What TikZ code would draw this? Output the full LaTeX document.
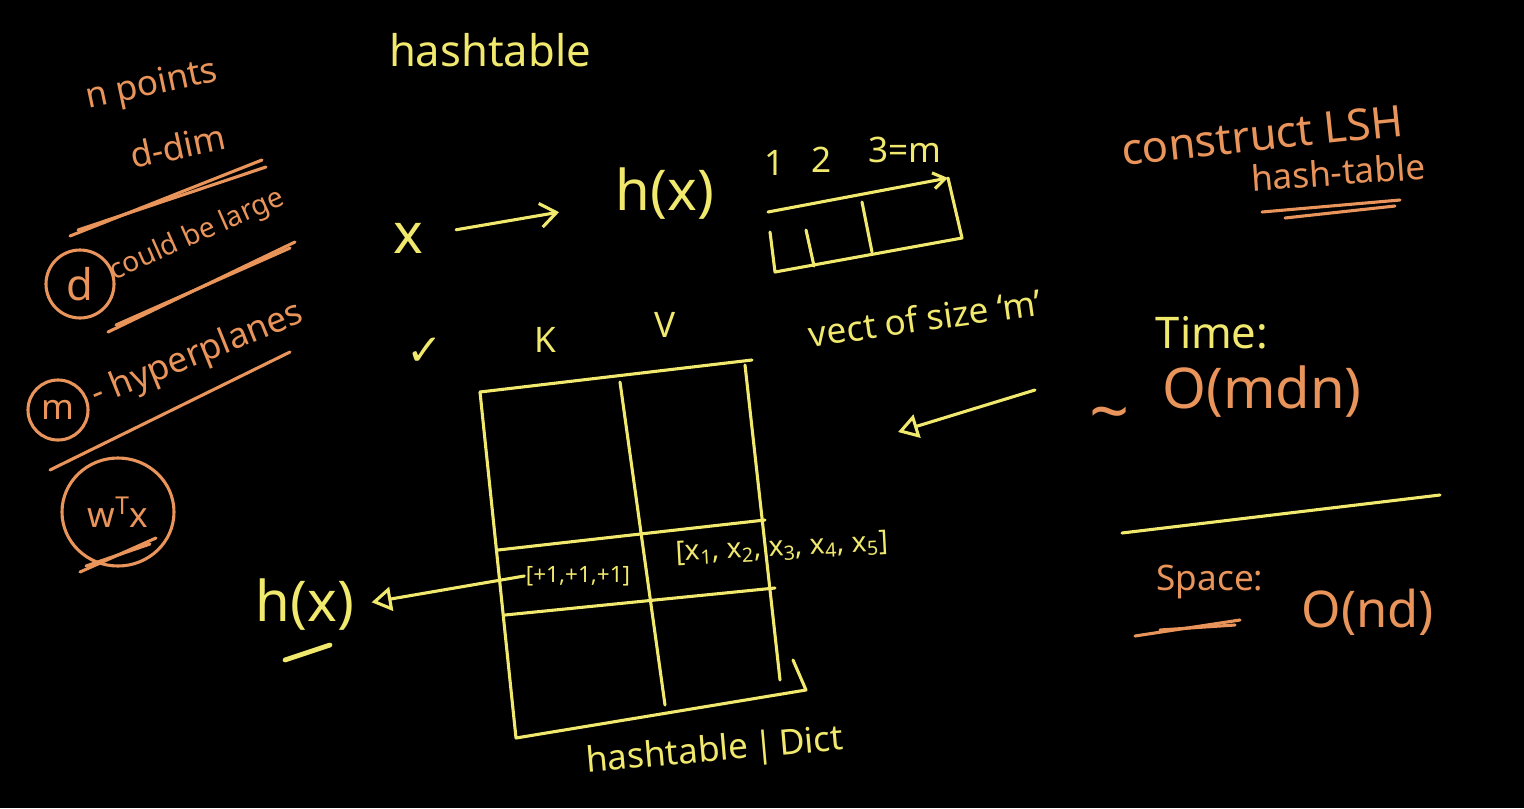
\documentclass[tikz,border=0pt]{standalone}
\usepackage{fontspec}
\setmainfont{Noto Sans}
\newfontfamily\symfont{DejaVu Sans}
\usetikzlibrary{positioning,arrows.meta,calc,shapes.geometric}
\definecolor{chalkY}{HTML}{F1E86E}
\definecolor{chalkO}{HTML}{E8945A}
\newcommand{\sub}[1]{\textsubscript{#1}}

\begin{document}
\begin{tikzpicture}[x=0.25mm, y=-0.25mm,
  yel/.style={text=chalkY, inner sep=1pt},
  org/.style={text=chalkO, inner sep=1pt},
  ystroke/.style={draw=chalkY, line width=2.2pt, line cap=round, line join=round},
  ostroke/.style={draw=chalkO, line width=2.2pt, line cap=round, line join=round},
  ring/.style={org, circle, draw=chalkO, line width=2.2pt},
  huge/.style={font=\fontsize{40}{42}\selectfont},
  big/.style={font=\fontsize{31}{33}\selectfont},
  mid/.style={font=\fontsize{25}{27}\selectfont},
  sml/.style={font=\fontsize{20}{22}\selectfont},
  tiny/.style={font=\fontsize{16}{18}\selectfont},
  barb/.style={-{Straight Barb[length=4mm, width=6mm]}},
  tri/.style={-{Triangle[open, length=5mm, width=6mm, line width=2.2pt]}}]
  \fill[black] (0,0) rectangle (1524,808);

  % left column: problem set-up
  \node[org, mid, rotate=12] (npts) at (152,86) {n points};
  \node[org, mid, rotate=12] (ddim) at (178,146) {d-dim};
  \draw[ostroke] (70,236) -- (262,160);
  \draw[ostroke] (78,230) -- (266,167);
  \node[ring, big, minimum size=17mm] (dring) at (80,284) {d};
  \node[org, sml, rotate=24, anchor=west] (large) at (110,274) {could be large};
  \draw[ostroke] (108,332) -- (295,242);
  \draw[ostroke] (116,325) -- (290,248);
  \node[ring, mid, minimum size=15mm] (mring) at (58,410) {m};
  \node[org, mid, rotate=22, anchor=west] (hyper) at (92,398) {- hyperplanes};
  \draw[ostroke] (50,470) -- (290,352);
  \node[ring, mid, ellipse, minimum width=28mm, minimum height=27mm] (wring) at (118,512) {w\textsuperscript{T}x};
  \draw[ostroke] (80,572) -- (156,538);
  \draw[ostroke] (86,566) -- (150,544);

  % hash function and vector
  \node[yel, big] (title) at (490,50) {hashtable};
  \node[yel, huge] (xin) at (408,238) {x};
  \node[yel, huge] (hx) at (665,194) {h(x)};
  \draw[ystroke, barb, shorten <=8mm, shorten >=14mm] (xin) -- (hx);

  \coordinate (vtl) at (768,212);
  \coordinate (vtr) at (948,178);
  \coordinate (vbr) at (962,238);
  \coordinate (vbl) at (775,272);
  \draw[ystroke] (vtr) -- (vbr) -- (vbl) -- (770,232);
  \draw[ystroke, -{Straight Barb[length=3mm, width=4mm]}] (vtl) -- (vtr);
  \draw[ystroke] (806,230) -- (814,266);
  \draw[ystroke] (862,202) -- (872,252);
  \node[yel, mid] (one) at (775,163) {1};
  \node[yel, mid] (two) at (822,160) {2};
  \node[yel, mid] (three) at (905,150) {3=m};
  \node[yel, mid, rotate=8] (vsize) at (925,318) {vect of size `m'};

  % key/value table
  \node[yel, big] (tick) at (425,352) {\symfont ✓};
  \node[yel, mid] (key) at (545,340) {K};
  \node[yel, mid] (val) at (665,325) {V};
  \coordinate (ttl) at (480,392);
  \coordinate (ttr) at (752,360);
  \coordinate (tbl) at (516,738);
  \coordinate (tbr) at (806,690);
  \draw[ystroke] (ttl) -- (ttr);
  \draw[ystroke] (ttl) -- (tbl) -- (tbr) -- (793,660);
  \draw[ystroke] (745,365) -- (780,680);
  \draw[ystroke] (620,382) -- (665,705);
  \draw[ystroke] (498,550) -- (765,520);
  \draw[ystroke] (505,615) -- (775,588);
  \node[yel, tiny] (sign) at (578,576) {[+1,+1,+1]};
  \node[yel, sml, rotate=3] (pts) at (782,548) {[x\sub{1}, x\sub{2}, x\sub{3}, x\sub{4}, x\sub{5}]};
  \node[yel, huge] (hxkey) at (305,605) {h(x)};
  \draw[ystroke, line width=3.4pt] (285,660) -- (330,645);
  \draw[ystroke, tri, shorten >=4mm] (sign.west) -- (hxkey.east);
  \node[yel, mid, rotate=5] (dict) at (715,752) {hashtable\,|\,Dict};
  \coordinate (from) at (1035,390);
  \coordinate (to) at (898,432);
  \draw[ystroke, tri] (from) -- (to);

  % right column: cost
  \node[org, big, rotate=6] (lsh) at (1262,135) {construct LSH};
  \node[org, mid, rotate=4] (hashtab) at (1338,172) {hash-table};
  \draw[ostroke] (1262,212) -- (1400,200);
  \draw[ostroke] (1285,218) -- (1395,206);
  \node[yel, big] (time) at (1212,333) {Time:};
  \node[org, font=\fontsize{50}{52}\selectfont] (approx) at (1110,422) {\textasciitilde};
  \node[org, huge] (omdn) at (1262,392) {O(mdn)};
  \draw[ystroke] (1122,533) -- (1440,495);
  \node[org, mid] (space) at (1210,582) {Space:};
  \draw[ostroke] (1135,636) -- (1240,620);
  \draw[ostroke] (1160,630) -- (1235,625);
  \node[org, font=\fontsize{36}{38}\selectfont] (ond) at (1368,612) {O(nd)};
\end{tikzpicture}
\end{document}
